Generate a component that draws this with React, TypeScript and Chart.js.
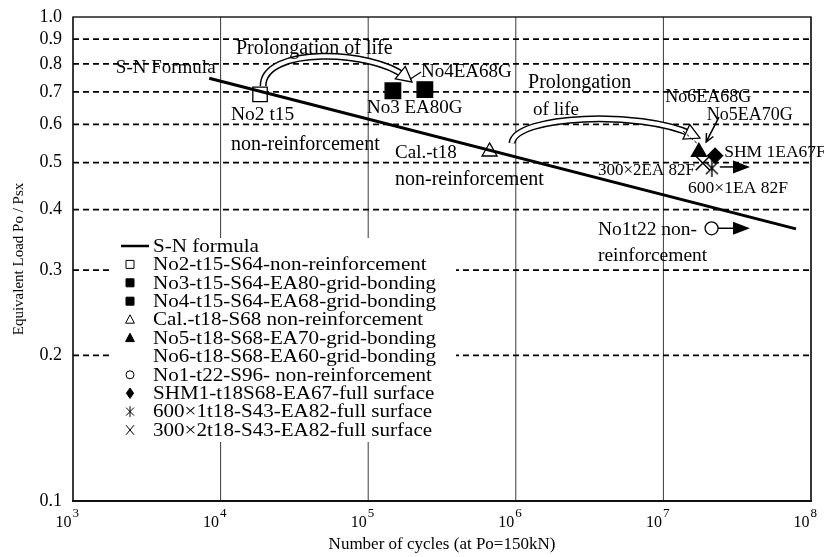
import React, { useEffect, useRef } from 'react';
import { Chart, registerables } from 'chart.js';

Chart.register(...registerables);

const FONT = '"Liberation Serif", "Times New Roman", serif';

// ---- axes ----
const xDecades = [1e3, 1e4, 1e5, 1e6, 1e7, 1e8];
const xExponents = ['3', '4', '5', '6', '7', '8'];
const yTicks = [0.1, 0.2, 0.3, 0.4, 0.5, 0.6, 0.7, 0.8, 0.9, 1.0];
const yDashedGrid = [0.2, 0.3, 0.4, 0.5, 0.6, 0.7, 0.8, 0.9];

// ---- S-N formula ----
const snCycles = [8.37e3, 7.91e7];
const snLoad = [0.747, 0.365];

// ---- specimens ----
const no2Cycles = [1.85e4];
const no2Load = [0.692];
const no3Cycles = [1.47e5];
const no3Load = [0.704];
const no4Cycles = [2.42e5];
const no4Load = [0.708];
const calCycles = [6.64e5];
const calLoad = [0.527];
const no5Cycles = [1.74e7];
const no5Load = [0.526];
const no6Cycles: number[] = [];
const no6Load: number[] = [];
const no1Cycles = [2.12e7];
const no1Load = [0.366];
const shmCycles = [2.24e7];
const shmLoad = [0.517];
const s600Cycles = [2.13e7];
const s600Load = [0.487];
const s300Cycles = [1.85e7];
const s300Load = [0.499];

// ---- run-outs (not failed) ----
const runoutFrom = [2.41e7, 2.12e7];
const runoutTo = [3.86e7, 3.86e7];
const runoutLoad = [0.49, 0.366];

// ---- legend labels ----
const legendLabels = [
  'S-N formula',
  'No2-t15-S64-non-reinforcement',
  'No3-t15-S64-EA80-grid-bonding',
  'No4-t15-S64-EA68-grid-bonding',
  'Cal.-t18-S68 non-reinforcement',
  'No5-t18-S68-EA70-grid-bonding',
  'No6-t18-S68-EA60-grid-bonding',
  'No1-t22-S96- non-reinforcement',
  'SHM1-t18S68-EA67-full surface',
  '600×1t18-S43-EA82-full surface',
  '300×2t18-S43-EA82-full surface',
];

// ---- annotation texts (anchored in data coordinates) ----
const noteTexts = [
  'Prolongation of life', 'S-N Formula', 'No2 t15', 'non-reinforcement',
  'No3 EA80G', 'No4EA68G', 'Cal.-t18', 'non-reinforcement',
  'Prolongation', 'of life', 'No6EA68G', 'No5EA70G',
  'SHM 1EA67F', '300×2EA 82F', '600×1EA 82F', 'No1t22 non-', 'reinforcement',
];
const noteCycles = [
  1.27e4, 1.95e3, 1.175e4, 1.175e4,
  9.8e4, 2.28e5, 1.52e5, 1.52e5,
  1.21e6, 1.31e6, 1.03e7, 1.97e7,
  2.58e7, 3.6e6, 1.47e7, 3.6e6, 3.6e6,
];
const noteLoad = [
  0.859, 0.785, 0.627, 0.544,
  0.648, 0.770, 0.524, 0.460,
  0.731, 0.642, 0.683, 0.627,
  0.526, 0.481, 0.443, 0.363, 0.321,
];
const noteSizes = [20, 19, 19.5, 20, 19, 19, 19, 20, 20, 19, 18, 18, 17.5, 17, 17.5, 19.5, 19.5];

// curved "prolongation of life" arrows (bezier control points, data coords)
const arrow1Cycles = [1.94e4, 1.94e4, 1.06e5, 1.98e5];
const arrow1Load = [0.720, 0.871, 0.855, 0.734];
const arrow2Cycles = [9.42e5, 9.89e5, 6.93e6, 1.77e7];
const arrow2Load = [0.549, 0.627, 0.642, 0.562];

// leader lines
const leadNo4Cycles = [1.92e5, 2.28e5];
const leadNo4Load = [0.744, 0.770];
const leadNo5Cycles = [2.38e7, 1.95e7];
const leadNo5Load = [0.621, 0.552];
const leadNo6Cycles = [1.36e7, 1.74e7];
const leadNo6Load = [0.581, 0.544];

type Kind = 'line' | 'rect' | 'triangle' | 'circle' | 'rectRot' | 'asterisk' | 'crossRot' | 'none';

const seriesDefs: { label: string; cycles: number[]; load: number[]; kind: Kind; filled: boolean; r: number }[] = [
  { label: legendLabels[0], cycles: snCycles, load: snLoad, kind: 'line', filled: false, r: 0 },
  { label: legendLabels[1], cycles: no2Cycles, load: no2Load, kind: 'rect', filled: false, r: 10.2 },
  { label: legendLabels[2], cycles: no3Cycles, load: no3Load, kind: 'rect', filled: true, r: 11 },
  { label: legendLabels[3], cycles: no4Cycles, load: no4Load, kind: 'rect', filled: true, r: 11 },
  { label: legendLabels[4], cycles: calCycles, load: calLoad, kind: 'triangle', filled: false, r: 8.7 },
  { label: legendLabels[5], cycles: no5Cycles, load: no5Load, kind: 'triangle', filled: true, r: 8.7 },
  { label: legendLabels[6], cycles: no6Cycles, load: no6Load, kind: 'none', filled: true, r: 0 },
  { label: legendLabels[7], cycles: no1Cycles, load: no1Load, kind: 'circle', filled: false, r: 6.5 },
  { label: legendLabels[8], cycles: shmCycles, load: shmLoad, kind: 'rectRot', filled: true, r: 7.5 },
  { label: legendLabels[9], cycles: s600Cycles, load: s600Load, kind: 'asterisk', filled: false, r: 8 },
  { label: legendLabels[10], cycles: s300Cycles, load: s300Load, kind: 'crossRot', filled: false, r: 10 },
];

function makeAsterisk(): HTMLCanvasElement {
  const c = document.createElement('canvas');
  c.width = 16;
  c.height = 18;
  const g = c.getContext('2d')!;
  g.strokeStyle = '#000';
  g.lineWidth = 1.4;
  g.beginPath();
  g.moveTo(2, 3); g.lineTo(14, 15);
  g.moveTo(14, 3); g.lineTo(2, 15);
  g.moveTo(8, 0); g.lineTo(8, 18);
  g.stroke();
  return c;
}

function drawLegendSymbol(ctx: CanvasRenderingContext2D, kind: Kind, filled: boolean, x: number, y: number) {
  const s = 4;
  ctx.save();
  ctx.strokeStyle = '#000';
  ctx.fillStyle = filled ? '#000' : '#fff';
  ctx.lineWidth = 1;
  ctx.beginPath();
  switch (kind) {
    case 'rect':
      ctx.rect(x - s, y - s, 2 * s, 2 * s);
      ctx.fill(); ctx.stroke();
      break;
    case 'triangle':
      ctx.moveTo(x, y - s * 1.2);
      ctx.lineTo(x + s * 1.1, y + s * 0.9);
      ctx.lineTo(x - s * 1.1, y + s * 0.9);
      ctx.closePath();
      ctx.fill(); ctx.stroke();
      break;
    case 'circle':
      ctx.arc(x, y, s, 0, Math.PI * 2);
      ctx.fill(); ctx.stroke();
      break;
    case 'rectRot':
      ctx.moveTo(x, y - s * 1.3);
      ctx.lineTo(x + s * 0.9, y);
      ctx.lineTo(x, y + s * 1.3);
      ctx.lineTo(x - s * 0.9, y);
      ctx.closePath();
      ctx.fill(); ctx.stroke();
      break;
    case 'asterisk':
      ctx.moveTo(x - s, y - s); ctx.lineTo(x + s, y + s);
      ctx.moveTo(x + s, y - s); ctx.lineTo(x - s, y + s);
      ctx.moveTo(x, y - s * 1.35); ctx.lineTo(x, y + s * 1.35);
      ctx.stroke();
      break;
    case 'crossRot':
      ctx.moveTo(x - s, y - s * 1.2); ctx.lineTo(x + s, y + s * 1.2);
      ctx.moveTo(x + s, y - s * 1.2); ctx.lineTo(x - s, y + s * 1.2);
      ctx.stroke();
      break;
    default:
      break;
  }
  ctx.restore();
}

export default function App() {
  const ref = useRef<HTMLCanvasElement | null>(null);

  useEffect(() => {
    if (!ref.current) return;
    const asterisk = makeAsterisk();

    const px = (chart: any, cx: number, ly: number) => ({
      x: chart.scales.x.getPixelForValue(cx),
      y: chart.scales.y.getPixelForValue(ly),
    });

    const hollowArrow = (chart: any, cs: number[], ls: number[]) => {
      const ctx: CanvasRenderingContext2D = chart.ctx;
      const p = cs.map((c, i) => px(chart, c, ls[i]));
      const [p0, p1, p2, p3] = p;
      const ang = Math.atan2(p3.y - p2.y, p3.x - p2.x);
      const cos = Math.cos(ang), sin = Math.sin(ang);
      const headLen = 15, headHalf = 8;
      const ex = p3.x - cos * headLen * 0.6, ey = p3.y - sin * headLen * 0.6;
      ctx.save();
      ctx.lineCap = 'butt';
      ctx.beginPath();
      ctx.moveTo(p0.x, p0.y);
      ctx.bezierCurveTo(p1.x, p1.y, p2.x, p2.y, ex, ey);
      ctx.strokeStyle = '#000';
      ctx.lineWidth = 7;
      ctx.stroke();
      ctx.strokeStyle = '#fff';
      ctx.lineWidth = 4;
      ctx.stroke();
      const bx = p3.x - cos * headLen, by = p3.y - sin * headLen;
      ctx.beginPath();
      ctx.moveTo(p3.x, p3.y);
      ctx.lineTo(bx - sin * headHalf, by + cos * headHalf);
      ctx.lineTo(bx + sin * headHalf, by - cos * headHalf);
      ctx.closePath();
      ctx.fillStyle = '#fff';
      ctx.fill();
      ctx.strokeStyle = '#000';
      ctx.lineWidth = 1.3;
      ctx.stroke();
      ctx.restore();
    };

    const decor = {
      id: 'decor',
      beforeDatasetsDraw(chart: any) {
        const { ctx, chartArea: ca, scales } = chart;
        const xs = scales.x, ys = scales.y;
        ctx.save();
        // vertical decade grid
        ctx.strokeStyle = '#3a3a3a';
        ctx.lineWidth = 1;
        xDecades.forEach((v) => {
          const x = xs.getPixelForValue(v);
          ctx.beginPath();
          ctx.moveTo(x, ca.top);
          ctx.lineTo(x, ca.bottom);
          ctx.stroke();
        });
        // horizontal dashed grid
        ctx.strokeStyle = '#000';
        ctx.lineWidth = 1.8;
        ctx.setLineDash([6, 4]);
        yDashedGrid.forEach((v) => {
          const y = ys.getPixelForValue(v);
          ctx.beginPath();
          ctx.moveTo(ca.left, y);
          ctx.lineTo(ca.right, y);
          ctx.stroke();
        });
        ctx.setLineDash([]);

        // legend (white box inside plot)
        const lx = ca.left + 40, ly = ca.top + 221;
        ctx.fillStyle = '#fff';
        ctx.fillRect(lx, ly, 343, 204);
        const rowY0 = ca.top + 229, step = 18.4;
        const symX = ca.left + 57, textX = ca.left + 80;
        seriesDefs.forEach((s, i) => {
          const y = rowY0 + i * step;
          if (s.kind === 'line') {
            ctx.beginPath();
            ctx.strokeStyle = '#000';
            ctx.lineWidth = 2.5;
            ctx.moveTo(ca.left + 48, y);
            ctx.lineTo(ca.left + 76, y);
            ctx.stroke();
          } else {
            drawLegendSymbol(ctx, s.kind, s.filled, symX, y);
          }
          ctx.save();
          ctx.translate(textX, y + 1);
          ctx.scale(1.17, 1);
          ctx.font = `18px ${FONT}`;
          ctx.fillStyle = '#000';
          ctx.textAlign = 'left';
          ctx.textBaseline = 'middle';
          ctx.fillText(s.label, 0, 0);
          ctx.restore();
        });

        // run-out arrows
        ctx.strokeStyle = '#000';
        ctx.fillStyle = '#000';
        ctx.lineWidth = 1.5;
        runoutFrom.forEach((c0, i) => {
          const a = px(chart, c0, runoutLoad[i]);
          const b = px(chart, runoutTo[i], runoutLoad[i]);
          ctx.beginPath();
          ctx.moveTo(a.x, a.y);
          ctx.lineTo(b.x - 15, b.y);
          ctx.stroke();
          ctx.beginPath();
          ctx.moveTo(b.x, b.y);
          ctx.lineTo(b.x - 17, b.y - 6.5);
          ctx.lineTo(b.x - 17, b.y + 6.5);
          ctx.closePath();
          ctx.fill();
        });
        ctx.restore();
      },
      afterDatasetsDraw(chart: any) {
        const { ctx } = chart;
        hollowArrow(chart, arrow1Cycles, arrow1Load);
        hollowArrow(chart, arrow2Cycles, arrow2Load);

        ctx.save();
        ctx.strokeStyle = '#000';
        ctx.lineWidth = 1.2;
        // No4 leader
        let a = px(chart, leadNo4Cycles[0], leadNo4Load[0]);
        let b = px(chart, leadNo4Cycles[1], leadNo4Load[1]);
        ctx.beginPath(); ctx.moveTo(a.x, a.y); ctx.lineTo(b.x, b.y); ctx.stroke();
        // No5 leader with open head
        a = px(chart, leadNo5Cycles[0], leadNo5Load[0]);
        b = px(chart, leadNo5Cycles[1], leadNo5Load[1]);
        ctx.lineWidth = 1.5;
        ctx.beginPath(); ctx.moveTo(a.x, a.y); ctx.lineTo(b.x, b.y); ctx.stroke();
        const ang = Math.atan2(b.y - a.y, b.x - a.x);
        ctx.beginPath();
        ctx.moveTo(b.x - 9 * Math.cos(ang - 0.45), b.y - 9 * Math.sin(ang - 0.45));
        ctx.lineTo(b.x, b.y);
        ctx.lineTo(b.x - 9 * Math.cos(ang + 0.45), b.y - 9 * Math.sin(ang + 0.45));
        ctx.stroke();
        // No6 dashed leader
        a = px(chart, leadNo6Cycles[0], leadNo6Load[0]);
        b = px(chart, leadNo6Cycles[1], leadNo6Load[1]);
        ctx.lineWidth = 1;
        ctx.setLineDash([3, 2]);
        ctx.beginPath(); ctx.moveTo(a.x, a.y); ctx.lineTo(b.x, b.y); ctx.stroke();
        ctx.setLineDash([]);

        // annotation texts
        ctx.fillStyle = '#000';
        ctx.textAlign = 'left';
        ctx.textBaseline = 'middle';
        noteTexts.forEach((t, i) => {
          const p = px(chart, noteCycles[i], noteLoad[i]);
          ctx.font = `${noteSizes[i]}px ${FONT}`;
          ctx.fillText(t, p.x, p.y);
        });
        ctx.restore();
      },
      afterDraw(chart: any) {
        const { ctx, chartArea: ca, scales } = chart;
        ctx.save();
        ctx.strokeStyle = '#111';
        ctx.lineWidth = 1.4;
        ctx.strokeRect(ca.left, ca.top, ca.right - ca.left, ca.bottom - ca.top);
        ctx.lineWidth = 2.2;
        ctx.beginPath();
        ctx.moveTo(ca.left - 1, ca.bottom);
        ctx.lineTo(ca.right + 1, ca.bottom);
        ctx.stroke();
        // x tick labels 10^n
        ctx.fillStyle = '#000';
        ctx.textBaseline = 'alphabetic';
        xDecades.forEach((v, i) => {
          const x = scales.x.getPixelForValue(v);
          ctx.font = `16px ${FONT}`;
          ctx.textAlign = 'right';
          ctx.fillText('10', x - 1.5, ca.bottom + 26);
          ctx.font = `13px ${FONT}`;
          ctx.textAlign = 'left';
          ctx.fillText(xExponents[i], x - 0.5, ca.bottom + 16);
        });
        ctx.restore();
      },
    };

    const datasets = seriesDefs.map((s) => {
      let pointStyle: any = s.kind;
      if (s.kind === 'asterisk') pointStyle = asterisk;
      if (s.kind === 'line' || s.kind === 'none') pointStyle = 'circle';
      return {
        label: s.label,
        data: s.cycles.map((c, i) => ({ x: c, y: s.load[i] })),
        showLine: s.kind === 'line',
        borderColor: '#000',
        borderWidth: s.kind === 'line' ? 3 : 1.3,
        backgroundColor: s.filled ? '#000' : '#fff',
        pointStyle,
        pointRadius: s.r,
        pointBorderColor: '#000',
        pointBackgroundColor: s.filled ? '#000' : '#fff',
        pointBorderWidth: s.kind === 'crossRot' ? 1.5 : 1.3,
      };
    });

    const zeroPad = (s: any) => {
      s.paddingTop = 0;
      s.paddingBottom = 0;
      s.paddingLeft = 0;
      s.paddingRight = 0;
    };

    const chart = new Chart(ref.current, {
      type: 'scatter',
      data: { datasets },
      options: {
        animation: false,
        responsive: false,
        events: [],
        layout: { padding: { top: 17, right: 13, left: 0, bottom: 0 } },
        plugins: { legend: { display: false }, tooltip: { enabled: false } },
        scales: {
          x: {
            type: 'logarithmic',
            min: 1e3,
            max: 1e8,
            grid: { display: false, drawTicks: false },
            border: { display: false },
            ticks: { display: false },
            afterBuildTicks: (s: any) => { s.ticks = xDecades.map((v) => ({ value: v })); },
            afterFit: (s: any) => { s.height = 56; zeroPad(s); },
            title: {
              display: true,
              text: 'Number of cycles (at Po=150kN)',
              color: '#000',
              font: { family: FONT, size: 17 },
              padding: { top: 0, bottom: 2 },
            },
          },
          y: {
            type: 'logarithmic',
            min: 0.1,
            max: 1,
            grid: { display: false, drawTicks: false },
            border: { display: false },
            ticks: {
              autoSkip: false,
              padding: 11,
              color: '#000',
              font: { family: FONT, size: 18 },
              callback: (v: any) => Number(v).toFixed(1),
            },
            afterBuildTicks: (s: any) => { s.ticks = yTicks.map((v) => ({ value: v })); },
            afterFit: (s: any) => { s.width = 73; zeroPad(s); },
            title: {
              display: true,
              text: 'Equivalent Load Po / Psx',
              color: '#000',
              font: { family: FONT, size: 15 },
              padding: { top: 10, bottom: 0 },
            },
          },
        },
      },
      plugins: [decor],
    } as any);

    return () => chart.destroy();
  }, []);

  return (
    <div style={{ position: 'absolute', left: 0, top: 0, width: 824, height: 557, background: '#fff' }}>
      <canvas ref={ref} width={824} height={557} style={{ width: 824, height: 557, display: 'block' }} />
    </div>
  );
}
